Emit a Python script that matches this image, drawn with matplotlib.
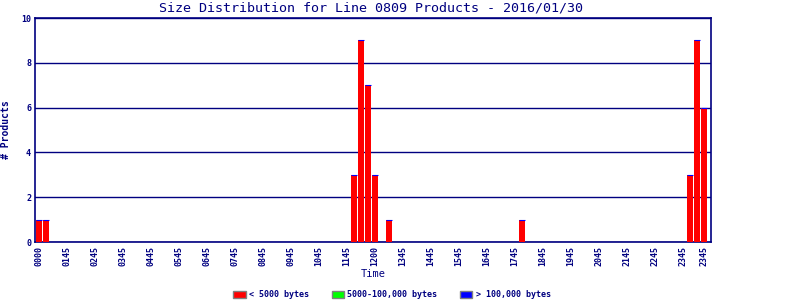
import matplotlib
matplotlib.use("Agg")
import matplotlib.pyplot as plt
from matplotlib.patches import Patch
import numpy as np

NAVY = "#000080"

# 96 fifteen-minute slots
slot_index = list(range(96))
small_counts = [0] * 96
for s, v in {0: 1, 1: 1, 45: 3, 46: 9, 47: 7, 48: 3, 50: 1, 69: 1, 93: 3, 94: 9, 95: 6}.items():
    small_counts[s] = v
medium_counts = [0] * 96
large_counts = [0] * 96

tick_slots = [0, 4, 8, 12, 16, 20, 24, 28, 32, 36, 40, 44, 48, 52, 56, 60, 64, 68,
              72, 76, 80, 84, 88, 92, 95]
tick_labels = ["0000", "0145", "0245", "0345", "0445", "0545", "0645", "0745", "0845",
               "0945", "1045", "1145", "1200", "1345", "1445", "1545", "1645", "1745",
               "1845", "1945", "2045", "2145", "2245", "2345", "2345"]

title = "Size Distribution for Line 0809 Products - 2016/01/30"
legend_labels = ["< 5000 bytes", "5000-100,000 bytes", "> 100,000 bytes"]
colors = ["#ff0000", "#00ff00", "#0000ff"]

plt.rcParams['font.family'] = ['DejaVu Sans Mono']

fig = plt.figure(figsize=(8, 3), dpi=100)
ax = fig.add_axes([0.044, 0.193, 0.845, 0.747])

x = np.array(slot_index)
s = np.array(small_counts)
m = np.array(medium_counts)
l = np.array(large_counts)
w = 0.85
ax.bar(x, s, width=w, color=colors[0], zorder=3)
ax.bar(x, m, width=w, bottom=s, color=colors[1], zorder=3)
ax.bar(x, l, width=w, bottom=s + m, color=colors[2], zorder=3)
tot = s + m + l
nz = tot > 0
ax.hlines(tot[nz], x[nz] - w / 2, x[nz] + w / 2, color=colors[2], lw=0.8, zorder=4)

ax.set_xlim(-0.5, 96)
ax.set_ylim(0, 10)
ax.set_yticks([0, 2, 4, 6, 8, 10])
ax.set_yticklabels(["0", "2", "4", "6", "8", "10"])
ax.set_xticks(tick_slots)
ax.set_xticklabels(tick_labels, rotation=90)
ax.tick_params(length=0, labelsize=6, colors=NAVY, pad=3)
for t in ax.get_xticklabels() + ax.get_yticklabels():
    t.set_fontweight('bold')
ax.grid(axis='y', color=NAVY, lw=1, zorder=1)
for sp in ax.spines.values():
    sp.set_color(NAVY)
    sp.set_linewidth(1.2)

ax.set_xlabel("Time", fontsize=7.5, color=NAVY, labelpad=2)
ax.set_ylabel("# Products", fontsize=7, color=NAVY, labelpad=7, fontweight='bold')
fig.text(0.464, 0.972, title, ha='center', va='center', fontsize=9.6, color=NAVY)

handles = [Patch(facecolor=c, edgecolor="#808080", lw=1) for c in colors]
leg = fig.legend(handles, legend_labels, loc='center', bbox_to_anchor=(0.49, 0.018),
                 ncol=3, frameon=False, fontsize=6, handlelength=1.5, handleheight=0.9,
                 handletextpad=0.4, columnspacing=2.7, borderpad=0)
for t in leg.get_texts():
    t.set_color(NAVY)
    t.set_fontweight('bold')

fig.savefig("out.png", dpi=100)
